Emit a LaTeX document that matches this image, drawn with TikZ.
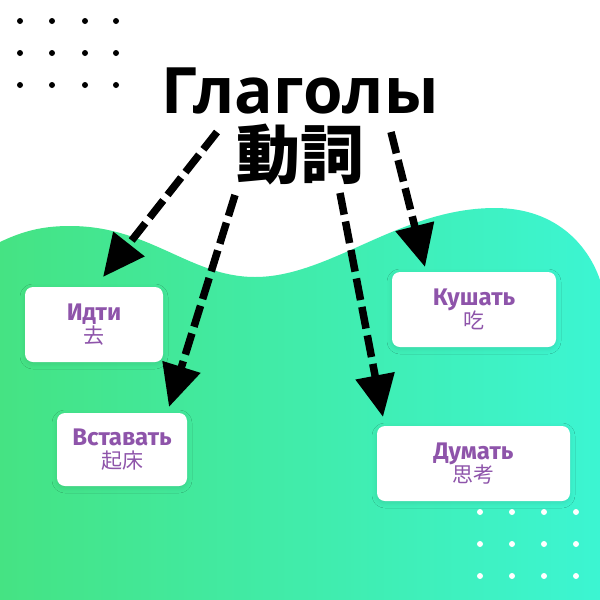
\documentclass[tikz,border=0pt]{standalone}
\usepackage{fontspec}
\usepackage{tikz}
\usetikzlibrary{arrows.meta,shadows.blur}
\setmainfont{Open Sans}
\newfontfamily\boxfont{Fira Sans}
\newfontfamily\cjk{Noto Sans CJK JP}
\definecolor{wavel}{RGB}{69,227,131}
\definecolor{waver}{RGB}{60,245,210}
\definecolor{verbtext}{RGB}{142,84,170}

\begin{document}
\begin{tikzpicture}[x=1pt, y=-1pt, >={Triangle[length=42pt,width=38pt]}]
\tikzstyle{verb}=[fill=white, rounded corners=8pt, align=center, text=verbtext, inner sep=0pt,
  font=\boxfont\bfseries\fontsize{24}{23}\selectfont,
  blur shadow={shadow xshift=0pt, shadow yshift=-2pt, shadow opacity=10, shadow blur radius=5pt}];
\tikzstyle{dashline}=[line width=7.5pt, dash pattern=on 22pt off 7pt];
\newcommand{\zi}[1]{{\cjk\mdseries\fontsize{21}{21}\selectfont #1}}

\useasboundingbox (0,0) rectangle (600,600);
\fill[white] (0,0) rectangle (600,600);
% wave
\shade[left color=wavel, right color=waver] (0,242) .. controls (25,230) and (45,226) .. (70,226)
  .. controls (150,226) and (190,277) .. (255,277)
  .. controls (330,277) and (400,208) .. (495,208)
  .. controls (560,208) and (590,250) .. (600,280) -- (600,600) -- (0,600) -- cycle;
% dots
\foreach \x in {20,52,85,116} \foreach \y in {21,53,85} \fill[black] (\x,\y) circle (3pt);
\foreach \x in {480,512,544,576} \foreach \y in {512,544,576} \fill[white] (\x,\y) circle (3pt);

\path (300,113) node[anchor=base, inner sep=0pt, text depth=0pt, font=\bfseries\fontsize{64}{64}\selectfont] (title) {Глаголы};
\path (300,152) node[inner sep=0pt, text height=52pt, text depth=0pt, anchor=center, font=\cjk\bfseries\fontsize{64}{64}\selectfont] (title2) {動詞};

\path (94,324.5) node[verb, minimum width=138pt, minimum height=75pt] (idti) {Идти\\\zi{去}};
\path (122,449.5) node[verb, minimum width=130pt, minimum height=73pt] (vstavat) {Вставать\\\zi{起床}};
\path (474,309.5) node[verb, minimum width=164pt, minimum height=75pt] (kushat) {Кушать\\\zi{吃}};
\path (473.5,463.5) node[verb, minimum width=193pt, minimum height=75pt] (dumat) {Думать\\\zi{思考}};

\coordinate (s1) at (217,132);
\coordinate (t1) at (103,277);
\coordinate (s2) at (235,195);
\coordinate (t2) at (169,407);
\coordinate (s3) at (340,193);
\coordinate (t3) at (383,417);
\coordinate (s4) at (391,132);
\coordinate (t4) at (425,267);
\path[->, dashline] (s1) edge (t1);
\path[->, dashline] (s2) edge (t2);
\path[->, dashline] (s3) edge (t3);
\path[->, dashline] (s4) edge (t4);
\end{tikzpicture}
\end{document}
